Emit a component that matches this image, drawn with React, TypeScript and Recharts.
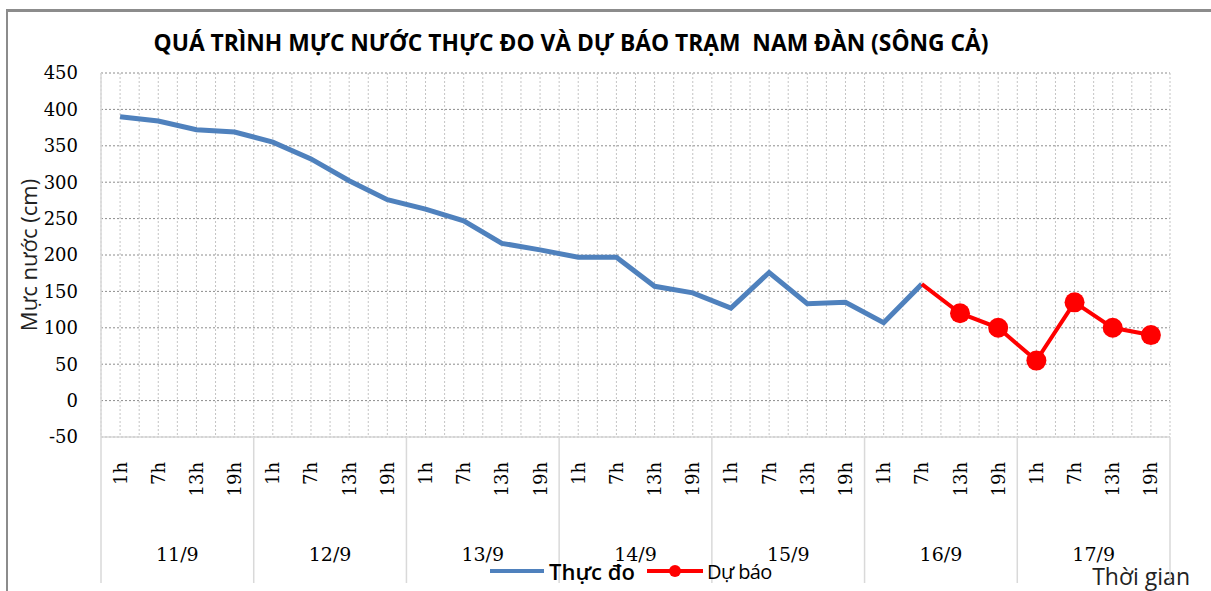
import { LineChart, Line, XAxis, YAxis, CartesianGrid } from "recharts";

// Mực nước trạm Nam Đàn (sông Cả), 4 obs/ngày
const days = ["11/9", "12/9", "13/9", "14/9", "15/9", "16/9", "17/9"];
const hours = ["1h", "7h", "13h", "19h"];
const yTicks = [-50, 0, 50, 100, 150, 200, 250, 300, 350, 400, 450];

// thực đo (cm) — hết số liệu sau 7h 16/9
const thucDo = [
  390, 384, 372, 369,
  355, 332, 302, 276,
  263, 247, 216, 207,
  197, 197, 157, 148,
  127, 176, 133, 135,
  107, 160, null, null,
  null, null, null, null,
];
// dự báo (cm) — nối tiếp từ điểm thực đo cuối
const duBao = [
  null, null, null, null,
  null, null, null, null,
  null, null, null, null,
  null, null, null, null,
  null, null, null, null,
  null, 160, 120, 100,
  55, 135, 100, 90,
];

const BLUE = "#4f81bd";
const RED = "#ff0000";
const SERIF = "'DejaVu Serif', serif";
const SANS = "'Open Sans', sans-serif";

const n = days.length * hours.length;
const data = Array.from({ length: n }, (_, i) => ({ i, thucDo: thucDo[i], duBao: duBao[i] }));
// ticks every half slot: integer = giờ, x.5 = biên / giữa ngày
const xTicks = Array.from({ length: 2 * n + 1 }, (_, k) => k / 2 - 0.5);
const firstDuBao = duBao.findIndex((v) => v != null);

function XTick({ x, y, payload }: any) {
  const v = payload.value as number;
  if (Number.isInteger(v)) {
    return (
      <text x={x} y={y + 25} transform={`rotate(-90 ${x} ${y + 25})`} textAnchor="end" dominantBaseline="central"
        fontFamily={SERIF} fontSize={18} fill="#000">
        {hours[v % hours.length]}
      </text>
    );
  }
  const s = v + 0.5;
  if (s % 4 === 0) return <line x1={x} x2={x} y1={y} y2={y + 146} stroke="#d9d9d9" strokeWidth={1.5} />;
  if ((s - 2) % 4 === 0) {
    return (
      <text x={x} y={y + 117} textAnchor="middle" dominantBaseline="central" fontFamily={SERIF} fontSize={19} fill="#000">
        {days[(s - 2) / 4]}
      </text>
    );
  }
  return null;
}

function RedDot({ cx, cy, index }: any) {
  if (index === firstDuBao || cy == null) return null;
  return <circle key={index} cx={cx} cy={cy} r={10} fill={RED} />;
}

export default function App() {
  return (
    <div style={{ position: "absolute", left: 0, top: 0, width: 1211, height: 591, background: "#fff", overflow: "hidden" }}>
      <div style={{ position: "absolute", left: 6, top: 9, width: 1220, height: 600, borderTop: "3px solid #8c8c8c", borderLeft: "2px solid #8c8c8c" }} />
      <div style={{ position: "absolute", left: 0, width: 1142, top: 27, textAlign: "center", fontFamily: SANS, fontWeight: 700, fontSize: 22.8, whiteSpace: "pre", color: "#000" }}>
        {"QUÁ TRÌNH MỰC NƯỚC THỰC ĐO VÀ DỰ BÁO TRẠM  NAM ĐÀN (SÔNG CẢ)"}
      </div>
      <LineChart width={1211} height={591} data={data} margin={{ top: 73, right: 41, left: 0, bottom: 0 }} style={{ position: "absolute", left: 0, top: 0 }}>
        <CartesianGrid vertical={false} stroke="#8c8c8c" strokeDasharray="2 2" />
        <CartesianGrid horizontal={false} stroke="#c4c4c4" strokeDasharray="2 2" />
        <XAxis
          type="number"
          dataKey="i"
          domain={[-0.5, n - 0.5]}
          ticks={xTicks}
          interval={0}
          height={154}
          tickSize={0}
          tickMargin={0}
          tickLine={false}
          axisLine={{ stroke: "#d9d9d9", strokeWidth: 1.5 }}
          tick={<XTick />}
          label={{
            content: ({ viewBox }: any) => (
              <text x={viewBox.x + viewBox.width + 20} y={viewBox.y + 148} textAnchor="end" fontFamily={SANS} fontSize={23} fill="#222">
                Thời gian
              </text>
            ),
          }}
        />
        <YAxis
          domain={[-50, 450]}
          ticks={yTicks}
          width={101}
          interval={0}
          tickSize={0}
          tickMargin={23}
          tickLine={false}
          axisLine={{ stroke: "#d9d9d9", strokeWidth: 1.5 }}
          tick={{ fontFamily: SERIF, fontSize: 18, fill: "#000" }}
          label={{
            content: ({ viewBox }: any) => {
              const cx = 28;
              const cy = viewBox.y + viewBox.height / 2;
              return (
                <text x={cx} y={cy} transform={`rotate(-90 ${cx} ${cy})`} textAnchor="middle" dominantBaseline="central"
                  fontFamily={SANS} fontSize={22} fill="#222">
                  Mực nước (cm)
                </text>
              );
            },
          }}
        />
        <Line dataKey="thucDo" stroke={BLUE} strokeWidth={5} dot={false} isAnimationActive={false} />
        <Line dataKey="duBao" stroke={RED} strokeWidth={4} dot={<RedDot />} activeDot={false} isAnimationActive={false} />
      </LineChart>
      {/* chú thích */}
      <div style={{ position: "absolute", left: 490, top: 556, display: "flex", alignItems: "center", fontFamily: SANS, color: "#000" }}>
        <svg width={56} height={12}>
          <line x1={0} x2={54} y1={6} y2={6} stroke={BLUE} strokeWidth={4} />
        </svg>
        <span style={{ fontSize: 22, fontWeight: 600, marginLeft: 3 }}>Thực đo</span>
        <svg width={58} height={16} style={{ marginLeft: 12 }}>
          <line x1={0} x2={56} y1={8} y2={8} stroke={RED} strokeWidth={4} />
          <circle cx={28} cy={8} r={6} fill={RED} />
        </svg>
        <span style={{ fontSize: 20, marginLeft: 2, letterSpacing: -0.6 }}>Dự báo</span>
      </div>
    </div>
  );
}
